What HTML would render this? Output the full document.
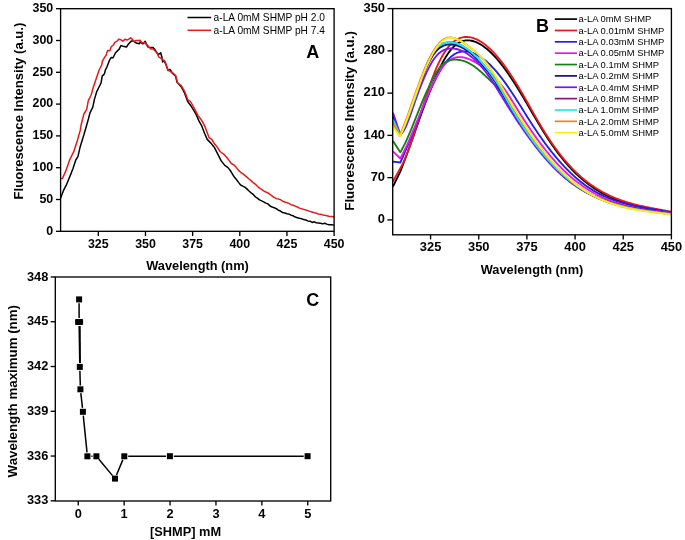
<!DOCTYPE html>
<html><head><meta charset="utf-8"><style>
html,body{margin:0;padding:0;background:#fff;}
svg{display:block;}
text{-webkit-font-smoothing:antialiased;}
.g{opacity:0.999;}
text{font-family:"Liberation Sans", sans-serif;}
</style></head><body>
<svg width="685" height="540" viewBox="0 0 685 540">
<rect x="0" y="0" width="685" height="540" fill="#fff"/>
<g class="g">
<defs><clipPath id="clipA"><rect x="60.6" y="8.7" width="273.5" height="222.6"/></clipPath>
<clipPath id="clipB"><rect x="392.7" y="8.6" width="278.4" height="225.8"/></clipPath></defs>
<g clip-path="url(#clipB)" fill="none" stroke-width="1.85" stroke-linejoin="round" stroke-linecap="butt">
<path d="M393.00,186.50 L400.60,170.81 L401.60,168.25 L402.60,165.65 L403.60,163.02 L404.60,160.37 L405.60,157.68 L406.60,154.98 L407.60,152.25 L408.60,149.50 L409.60,146.74 L410.60,143.96 L411.60,141.17 L412.60,138.37 L413.60,135.57 L414.60,132.76 L415.60,129.95 L416.60,127.14 L417.60,124.33 L418.60,121.53 L419.60,118.74 L420.60,115.96 L421.60,113.19 L422.60,110.44 L423.60,107.70 L424.60,104.99 L425.60,102.30 L426.60,99.64 L427.60,97.01 L428.60,94.41 L429.60,91.84 L430.60,89.30 L431.60,86.81 L432.60,84.36 L433.60,81.95 L434.60,79.58 L435.60,77.27 L436.60,75.01 L437.60,72.80 L438.60,70.64 L439.60,68.55 L440.60,66.51 L441.60,64.54 L442.60,62.64 L443.60,60.81 L444.60,59.04 L445.60,57.35 L446.60,55.74 L447.60,54.20 L448.60,52.75 L449.60,51.38 L450.60,50.10 L451.60,48.90 L452.60,47.79 L453.60,46.77 L454.60,45.83 L455.60,44.97 L456.60,44.19 L457.60,43.48 L458.60,42.86 L459.60,42.30 L460.60,41.82 L461.60,41.41 L462.60,41.07 L463.60,40.79 L464.60,40.58 L465.60,40.43 L466.60,40.34 L467.60,40.31 L468.60,40.34 L469.60,40.42 L470.60,40.56 L471.60,40.74 L472.60,40.98 L473.60,41.26 L474.60,41.59 L475.60,41.96 L476.60,42.38 L477.60,42.84 L478.60,43.34 L479.60,43.87 L480.60,44.45 L481.60,45.07 L482.60,45.72 L483.60,46.42 L484.60,47.15 L485.60,47.92 L486.60,48.72 L487.60,49.56 L488.60,50.43 L489.60,51.34 L490.60,52.28 L491.60,53.26 L492.60,54.27 L493.60,55.30 L494.60,56.37 L495.60,57.47 L496.60,58.60 L497.60,59.76 L498.60,60.95 L499.60,62.16 L500.60,63.40 L501.60,64.67 L502.60,65.97 L503.60,67.29 L504.60,68.63 L505.60,70.00 L506.60,71.39 L507.60,72.81 L508.60,74.25 L509.60,75.70 L510.60,77.18 L511.60,78.69 L512.60,80.20 L513.60,81.74 L514.60,83.30 L515.60,84.88 L516.60,86.47 L517.60,88.08 L518.60,89.70 L519.60,91.34 L520.60,93.00 L521.60,94.66 L522.60,96.34 L523.60,98.03 L524.60,99.73 L525.60,101.43 L526.60,103.14 L527.60,104.85 L528.60,106.57 L529.60,108.29 L530.60,110.02 L531.60,111.74 L532.60,113.46 L533.60,115.17 L534.60,116.89 L535.60,118.59 L536.60,120.29 L537.60,121.99 L538.60,123.67 L539.60,125.34 L540.60,127.00 L541.60,128.65 L542.60,130.28 L543.60,131.89 L544.60,133.49 L545.60,135.07 L546.60,136.64 L547.60,138.19 L548.60,139.71 L549.60,141.23 L550.60,142.72 L551.60,144.19 L552.60,145.64 L553.60,147.07 L554.60,148.49 L555.60,149.88 L556.60,151.25 L557.60,152.60 L558.60,153.93 L559.60,155.23 L560.60,156.52 L561.60,157.78 L562.60,159.02 L563.60,160.24 L564.60,161.44 L565.60,162.61 L566.60,163.77 L567.60,164.90 L568.60,166.02 L569.60,167.11 L570.60,168.19 L571.60,169.25 L572.60,170.28 L573.60,171.30 L574.60,172.30 L575.60,173.28 L576.60,174.24 L577.60,175.18 L578.60,176.10 L579.60,177.01 L580.60,177.90 L581.60,178.77 L582.60,179.62 L583.60,180.46 L584.60,181.28 L585.60,182.08 L586.60,182.87 L587.60,183.64 L588.60,184.40 L589.60,185.14 L590.60,185.86 L591.60,186.57 L592.60,187.26 L593.60,187.94 L594.60,188.61 L595.60,189.26 L596.60,189.89 L597.60,190.51 L598.60,191.12 L599.60,191.72 L600.60,192.30 L601.60,192.87 L602.60,193.42 L603.60,193.97 L604.60,194.50 L605.60,195.02 L606.60,195.52 L607.60,196.02 L608.60,196.50 L609.60,196.97 L610.60,197.43 L611.60,197.88 L612.60,198.32 L613.60,198.75 L614.60,199.17 L615.60,199.58 L616.60,199.98 L617.60,200.37 L618.60,200.75 L619.60,201.12 L620.60,201.48 L621.60,201.83 L622.60,202.18 L623.60,202.52 L624.60,202.85 L625.60,203.17 L626.60,203.48 L627.60,203.78 L628.60,204.08 L629.60,204.38 L630.60,204.66 L631.60,204.94 L632.60,205.21 L633.60,205.48 L634.60,205.74 L635.60,205.99 L636.60,206.24 L637.60,206.49 L638.60,206.72 L639.60,206.96 L640.60,207.19 L641.60,207.41 L642.60,207.63 L643.60,207.85 L644.60,208.07 L645.60,208.28 L646.60,208.48 L647.60,208.69 L648.60,208.89 L649.60,209.09 L650.60,209.28 L651.60,209.48 L652.60,209.67 L653.60,209.86 L654.60,210.05 L655.60,210.23 L656.60,210.42 L657.60,210.61 L658.60,210.79 L659.60,210.97 L660.60,211.16 L661.60,211.34 L662.60,211.53 L663.60,211.71 L664.60,211.90 L665.60,212.08 L666.60,212.27 L667.60,212.46 L668.60,212.65 L669.60,212.84 L670.60,213.04" stroke="#000000"/>
<path d="M393.00,181.50 L400.60,167.80 L401.60,165.93 L402.60,163.92 L403.60,161.80 L404.60,159.56 L405.60,157.22 L406.60,154.77 L407.60,152.23 L408.60,149.60 L409.60,146.89 L410.60,144.11 L411.60,141.26 L412.60,138.34 L413.60,135.38 L414.60,132.36 L415.60,129.31 L416.60,126.22 L417.60,123.11 L418.60,119.97 L419.60,116.82 L420.60,113.66 L421.60,110.50 L422.60,107.35 L423.60,104.21 L424.60,101.09 L425.60,97.99 L426.60,94.93 L427.60,91.91 L428.60,88.93 L429.60,86.01 L430.60,83.14 L431.60,80.35 L432.60,77.62 L433.60,74.98 L434.60,72.42 L435.60,69.95 L436.60,67.58 L437.60,65.32 L438.60,63.15 L439.60,61.08 L440.60,59.10 L441.60,57.22 L442.60,55.44 L443.60,53.75 L444.60,52.15 L445.60,50.64 L446.60,49.23 L447.60,47.90 L448.60,46.66 L449.60,45.51 L450.60,44.43 L451.60,43.44 L452.60,42.53 L453.60,41.69 L454.60,40.93 L455.60,40.25 L456.60,39.63 L457.60,39.08 L458.60,38.61 L459.60,38.19 L460.60,37.84 L461.60,37.55 L462.60,37.33 L463.60,37.16 L464.60,37.04 L465.60,36.98 L466.60,36.97 L467.60,37.01 L468.60,37.10 L469.60,37.24 L470.60,37.42 L471.60,37.64 L472.60,37.91 L473.60,38.22 L474.60,38.57 L475.60,38.96 L476.60,39.40 L477.60,39.87 L478.60,40.38 L479.60,40.93 L480.60,41.52 L481.60,42.15 L482.60,42.82 L483.60,43.52 L484.60,44.26 L485.60,45.03 L486.60,45.84 L487.60,46.69 L488.60,47.57 L489.60,48.48 L490.60,49.43 L491.60,50.40 L492.60,51.42 L493.60,52.46 L494.60,53.53 L495.60,54.64 L496.60,55.77 L497.60,56.94 L498.60,58.13 L499.60,59.35 L500.60,60.60 L501.60,61.88 L502.60,63.18 L503.60,64.51 L504.60,65.87 L505.60,67.25 L506.60,68.65 L507.60,70.08 L508.60,71.54 L509.60,73.01 L510.60,74.51 L511.60,76.03 L512.60,77.58 L513.60,79.14 L514.60,80.72 L515.60,82.33 L516.60,83.95 L517.60,85.60 L518.60,87.26 L519.60,88.93 L520.60,90.63 L521.60,92.34 L522.60,94.06 L523.60,95.79 L524.60,97.53 L525.60,99.28 L526.60,101.04 L527.60,102.80 L528.60,104.57 L529.60,106.33 L530.60,108.10 L531.60,109.87 L532.60,111.63 L533.60,113.40 L534.60,115.15 L535.60,116.90 L536.60,118.64 L537.60,120.37 L538.60,122.09 L539.60,123.79 L540.60,125.48 L541.60,127.16 L542.60,128.81 L543.60,130.45 L544.60,132.07 L545.60,133.66 L546.60,135.24 L547.60,136.79 L548.60,138.32 L549.60,139.83 L550.60,141.32 L551.60,142.79 L552.60,144.23 L553.60,145.66 L554.60,147.07 L555.60,148.45 L556.60,149.81 L557.60,151.15 L558.60,152.48 L559.60,153.78 L560.60,155.06 L561.60,156.32 L562.60,157.56 L563.60,158.78 L564.60,159.98 L565.60,161.15 L566.60,162.31 L567.60,163.45 L568.60,164.57 L569.60,165.67 L570.60,166.74 L571.60,167.80 L572.60,168.84 L573.60,169.86 L574.60,170.86 L575.60,171.84 L576.60,172.81 L577.60,173.75 L578.60,174.68 L579.60,175.59 L580.60,176.48 L581.60,177.35 L582.60,178.21 L583.60,179.05 L584.60,179.87 L585.60,180.67 L586.60,181.46 L587.60,182.23 L588.60,182.99 L589.60,183.73 L590.60,184.46 L591.60,185.17 L592.60,185.86 L593.60,186.54 L594.60,187.21 L595.60,187.86 L596.60,188.50 L597.60,189.12 L598.60,189.73 L599.60,190.32 L600.60,190.91 L601.60,191.48 L602.60,192.03 L603.60,192.58 L604.60,193.11 L605.60,193.63 L606.60,194.13 L607.60,194.63 L608.60,195.11 L609.60,195.58 L610.60,196.04 L611.60,196.49 L612.60,196.93 L613.60,197.36 L614.60,197.78 L615.60,198.19 L616.60,198.59 L617.60,198.98 L618.60,199.36 L619.60,199.73 L620.60,200.09 L621.60,200.44 L622.60,200.79 L623.60,201.12 L624.60,201.45 L625.60,201.77 L626.60,202.08 L627.60,202.39 L628.60,202.69 L629.60,202.98 L630.60,203.26 L631.60,203.54 L632.60,203.81 L633.60,204.08 L634.60,204.34 L635.60,204.59 L636.60,204.84 L637.60,205.08 L638.60,205.32 L639.60,205.56 L640.60,205.79 L641.60,206.01 L642.60,206.23 L643.60,206.45 L644.60,206.66 L645.60,206.87 L646.60,207.08 L647.60,207.28 L648.60,207.48 L649.60,207.68 L650.60,207.88 L651.60,208.07 L652.60,208.26 L653.60,208.45 L654.60,208.64 L655.60,208.83 L656.60,209.02 L657.60,209.20 L658.60,209.39 L659.60,209.57 L660.60,209.76 L661.60,209.94 L662.60,210.12 L663.60,210.31 L664.60,210.50 L665.60,210.68 L666.60,210.87 L667.60,211.06 L668.60,211.25 L669.60,211.45 L670.60,211.64" stroke="#e8191a"/>
<path d="M393.00,161.70 L400.30,162.50 L401.30,160.32 L402.30,158.10 L403.30,155.84 L404.30,153.54 L405.30,151.21 L406.30,148.85 L407.30,146.46 L408.30,144.05 L409.30,141.62 L410.30,139.16 L411.30,136.69 L412.30,134.21 L413.30,131.72 L414.30,129.22 L415.30,126.71 L416.30,124.20 L417.30,121.69 L418.30,119.19 L419.30,116.69 L420.30,114.20 L421.30,111.72 L422.30,109.26 L423.30,106.81 L424.30,104.38 L425.30,101.98 L426.30,99.60 L427.30,97.25 L428.30,94.93 L429.30,92.65 L430.30,90.40 L431.30,88.19 L432.30,86.02 L433.30,83.90 L434.30,81.82 L435.30,79.80 L436.30,77.83 L437.30,75.91 L438.30,74.06 L439.30,72.27 L440.30,70.54 L441.30,68.87 L442.30,67.28 L443.30,65.76 L444.30,64.32 L445.30,62.95 L446.30,61.67 L447.30,60.47 L448.30,59.35 L449.30,58.31 L450.30,57.36 L451.30,56.48 L452.30,55.68 L453.30,54.96 L454.30,54.30 L455.30,53.72 L456.30,53.21 L457.30,52.76 L458.30,52.38 L459.30,52.06 L460.30,51.80 L461.30,51.60 L462.30,51.46 L463.30,51.37 L464.30,51.34 L465.30,51.35 L466.30,51.42 L467.30,51.54 L468.30,51.70 L469.30,51.91 L470.30,52.15 L471.30,52.44 L472.30,52.77 L473.30,53.14 L474.30,53.55 L475.30,54.00 L476.30,54.48 L477.30,55.00 L478.30,55.56 L479.30,56.16 L480.30,56.79 L481.30,57.46 L482.30,58.16 L483.30,58.90 L484.30,59.68 L485.30,60.48 L486.30,61.32 L487.30,62.19 L488.30,63.10 L489.30,64.04 L490.30,65.01 L491.30,66.00 L492.30,67.03 L493.30,68.09 L494.30,69.18 L495.30,70.30 L496.30,71.45 L497.30,72.62 L498.30,73.82 L499.30,75.05 L500.30,76.31 L501.30,77.59 L502.30,78.90 L503.30,80.23 L504.30,81.59 L505.30,82.97 L506.30,84.37 L507.30,85.79 L508.30,87.24 L509.30,88.71 L510.30,90.19 L511.30,91.69 L512.30,93.21 L513.30,94.73 L514.30,96.28 L515.30,97.83 L516.30,99.39 L517.30,100.97 L518.30,102.55 L519.30,104.13 L520.30,105.73 L521.30,107.32 L522.30,108.92 L523.30,110.52 L524.30,112.12 L525.30,113.71 L526.30,115.31 L527.30,116.90 L528.30,118.48 L529.30,120.06 L530.30,121.63 L531.30,123.19 L532.30,124.74 L533.30,126.28 L534.30,127.81 L535.30,129.32 L536.30,130.81 L537.30,132.29 L538.30,133.76 L539.30,135.21 L540.30,136.65 L541.30,138.07 L542.30,139.48 L543.30,140.87 L544.30,142.24 L545.30,143.60 L546.30,144.95 L547.30,146.28 L548.30,147.60 L549.30,148.90 L550.30,150.18 L551.30,151.45 L552.30,152.71 L553.30,153.95 L554.30,155.17 L555.30,156.38 L556.30,157.57 L557.30,158.75 L558.30,159.91 L559.30,161.05 L560.30,162.18 L561.30,163.30 L562.30,164.40 L563.30,165.48 L564.30,166.55 L565.30,167.60 L566.30,168.63 L567.30,169.65 L568.30,170.65 L569.30,171.64 L570.30,172.61 L571.30,173.57 L572.30,174.51 L573.30,175.43 L574.30,176.34 L575.30,177.23 L576.30,178.10 L577.30,178.96 L578.30,179.80 L579.30,180.63 L580.30,181.43 L581.30,182.23 L582.30,183.00 L583.30,183.76 L584.30,184.50 L585.30,185.23 L586.30,185.94 L587.30,186.64 L588.30,187.32 L589.30,187.98 L590.30,188.63 L591.30,189.27 L592.30,189.89 L593.30,190.49 L594.30,191.09 L595.30,191.67 L596.30,192.23 L597.30,192.78 L598.30,193.32 L599.30,193.85 L600.30,194.36 L601.30,194.86 L602.30,195.35 L603.30,195.83 L604.30,196.29 L605.30,196.74 L606.30,197.18 L607.30,197.61 L608.30,198.03 L609.30,198.44 L610.30,198.84 L611.30,199.23 L612.30,199.61 L613.30,199.98 L614.30,200.33 L615.30,200.68 L616.30,201.02 L617.30,201.36 L618.30,201.68 L619.30,201.99 L620.30,202.30 L621.30,202.60 L622.30,202.89 L623.30,203.17 L624.30,203.45 L625.30,203.72 L626.30,203.98 L627.30,204.23 L628.30,204.48 L629.30,204.72 L630.30,204.96 L631.30,205.19 L632.30,205.42 L633.30,205.64 L634.30,205.85 L635.30,206.06 L636.30,206.27 L637.30,206.47 L638.30,206.67 L639.30,206.86 L640.30,207.05 L641.30,207.23 L642.30,207.42 L643.30,207.60 L644.30,207.77 L645.30,207.95 L646.30,208.12 L647.30,208.29 L648.30,208.46 L649.30,208.62 L650.30,208.79 L651.30,208.95 L652.30,209.11 L653.30,209.27 L654.30,209.43 L655.30,209.59 L656.30,209.75 L657.30,209.92 L658.30,210.08 L659.30,210.24 L660.30,210.40 L661.30,210.56 L662.30,210.73 L663.30,210.89 L664.30,211.06 L665.30,211.23 L666.30,211.40 L667.30,211.58 L668.30,211.75 L669.30,211.93 L670.30,212.11 L671.30,212.30" stroke="#1f1fe6"/>
<path d="M393.00,151.40 L400.30,158.50 L401.30,156.66 L402.30,154.76 L403.30,152.79 L404.30,150.77 L405.30,148.68 L406.30,146.55 L407.30,144.37 L408.30,142.14 L409.30,139.88 L410.30,137.57 L411.30,135.23 L412.30,132.87 L413.30,130.47 L414.30,128.06 L415.30,125.63 L416.30,123.18 L417.30,120.72 L418.30,118.26 L419.30,115.79 L420.30,113.32 L421.30,110.85 L422.30,108.40 L423.30,105.95 L424.30,103.52 L425.30,101.11 L426.30,98.72 L427.30,96.36 L428.30,94.03 L429.30,91.73 L430.30,89.47 L431.30,87.25 L432.30,85.08 L433.30,82.96 L434.30,80.89 L435.30,78.89 L436.30,76.97 L437.30,75.12 L438.30,73.36 L439.30,71.70 L440.30,70.15 L441.30,68.69 L442.30,67.34 L443.30,66.09 L444.30,64.93 L445.30,63.86 L446.30,62.88 L447.30,61.99 L448.30,61.19 L449.30,60.46 L450.30,59.82 L451.30,59.25 L452.30,58.75 L453.30,58.32 L454.30,57.96 L455.30,57.67 L456.30,57.44 L457.30,57.27 L458.30,57.17 L459.30,57.11 L460.30,57.12 L461.30,57.18 L462.30,57.28 L463.30,57.44 L464.30,57.64 L465.30,57.88 L466.30,58.17 L467.30,58.50 L468.30,58.86 L469.30,59.25 L470.30,59.68 L471.30,60.14 L472.30,60.63 L473.30,61.14 L474.30,61.68 L475.30,62.24 L476.30,62.81 L477.30,63.41 L478.30,64.02 L479.30,64.66 L480.30,65.31 L481.30,65.99 L482.30,66.69 L483.30,67.41 L484.30,68.15 L485.30,68.92 L486.30,69.71 L487.30,70.53 L488.30,71.37 L489.30,72.24 L490.30,73.14 L491.30,74.07 L492.30,75.02 L493.30,76.00 L494.30,77.01 L495.30,78.06 L496.30,79.13 L497.30,80.24 L498.30,81.38 L499.30,82.55 L500.30,83.75 L501.30,84.99 L502.30,86.27 L503.30,87.58 L504.30,88.93 L505.30,90.31 L506.30,91.73 L507.30,93.19 L508.30,94.69 L509.30,96.23 L510.30,97.80 L511.30,99.39 L512.30,101.00 L513.30,102.63 L514.30,104.26 L515.30,105.90 L516.30,107.53 L517.30,109.15 L518.30,110.77 L519.30,112.37 L520.30,113.96 L521.30,115.55 L522.30,117.11 L523.30,118.67 L524.30,120.22 L525.30,121.75 L526.30,123.27 L527.30,124.78 L528.30,126.28 L529.30,127.77 L530.30,129.24 L531.30,130.70 L532.30,132.15 L533.30,133.58 L534.30,135.00 L535.30,136.41 L536.30,137.80 L537.30,139.18 L538.30,140.55 L539.30,141.90 L540.30,143.24 L541.30,144.57 L542.30,145.88 L543.30,147.18 L544.30,148.46 L545.30,149.73 L546.30,150.99 L547.30,152.22 L548.30,153.45 L549.30,154.66 L550.30,155.85 L551.30,157.03 L552.30,158.19 L553.30,159.34 L554.30,160.47 L555.30,161.59 L556.30,162.69 L557.30,163.77 L558.30,164.84 L559.30,165.89 L560.30,166.93 L561.30,167.94 L562.30,168.95 L563.30,169.93 L564.30,170.90 L565.30,171.85 L566.30,172.79 L567.30,173.71 L568.30,174.62 L569.30,175.51 L570.30,176.39 L571.30,177.25 L572.30,178.09 L573.30,178.93 L574.30,179.74 L575.30,180.54 L576.30,181.33 L577.30,182.11 L578.30,182.86 L579.30,183.61 L580.30,184.34 L581.30,185.06 L582.30,185.77 L583.30,186.46 L584.30,187.14 L585.30,187.80 L586.30,188.45 L587.30,189.09 L588.30,189.72 L589.30,190.34 L590.30,190.94 L591.30,191.53 L592.30,192.11 L593.30,192.68 L594.30,193.23 L595.30,193.78 L596.30,194.31 L597.30,194.83 L598.30,195.34 L599.30,195.84 L600.30,196.33 L601.30,196.81 L602.30,197.28 L603.30,197.74 L604.30,198.18 L605.30,198.62 L606.30,199.05 L607.30,199.47 L608.30,199.88 L609.30,200.28 L610.30,200.67 L611.30,201.05 L612.30,201.42 L613.30,201.78 L614.30,202.14 L615.30,202.48 L616.30,202.82 L617.30,203.15 L618.30,203.47 L619.30,203.79 L620.30,204.09 L621.30,204.39 L622.30,204.68 L623.30,204.97 L624.30,205.24 L625.30,205.51 L626.30,205.78 L627.30,206.03 L628.30,206.28 L629.30,206.53 L630.30,206.76 L631.30,206.99 L632.30,207.22 L633.30,207.44 L634.30,207.65 L635.30,207.86 L636.30,208.06 L637.30,208.26 L638.30,208.45 L639.30,208.64 L640.30,208.83 L641.30,209.00 L642.30,209.18 L643.30,209.35 L644.30,209.51 L645.30,209.68 L646.30,209.83 L647.30,209.99 L648.30,210.14 L649.30,210.29 L650.30,210.43 L651.30,210.57 L652.30,210.71 L653.30,210.84 L654.30,210.98 L655.30,211.11 L656.30,211.23 L657.30,211.36 L658.30,211.48 L659.30,211.61 L660.30,211.73 L661.30,211.84 L662.30,211.96 L663.30,212.08 L664.30,212.19 L665.30,212.30 L666.30,212.42 L667.30,212.53 L668.30,212.64 L669.30,212.75 L670.30,212.86 L671.30,212.97" stroke="#f010f0"/>
<path d="M393.00,141.10 L400.30,152.30 L401.30,150.61 L402.30,148.81 L403.30,146.92 L404.30,144.94 L405.30,142.87 L406.30,140.72 L407.30,138.51 L408.30,136.23 L409.30,133.90 L410.30,131.52 L411.30,129.09 L412.30,126.63 L413.30,124.15 L414.30,121.64 L415.30,119.12 L416.30,116.59 L417.30,114.06 L418.30,111.54 L419.30,109.03 L420.30,106.54 L421.30,104.09 L422.30,101.66 L423.30,99.28 L424.30,96.95 L425.30,94.65 L426.30,92.41 L427.30,90.21 L428.30,88.05 L429.30,85.94 L430.30,83.87 L431.30,81.84 L432.30,79.86 L433.30,77.92 L434.30,76.05 L435.30,74.25 L436.30,72.54 L437.30,70.94 L438.30,69.45 L439.30,68.08 L440.30,66.85 L441.30,65.73 L442.30,64.72 L443.30,63.83 L444.30,63.03 L445.30,62.34 L446.30,61.73 L447.30,61.22 L448.30,60.78 L449.30,60.43 L450.30,60.14 L451.30,59.93 L452.30,59.77 L453.30,59.67 L454.30,59.62 L455.30,59.61 L456.30,59.65 L457.30,59.72 L458.30,59.83 L459.30,59.97 L460.30,60.14 L461.30,60.35 L462.30,60.60 L463.30,60.88 L464.30,61.21 L465.30,61.56 L466.30,61.96 L467.30,62.40 L468.30,62.87 L469.30,63.38 L470.30,63.94 L471.30,64.53 L472.30,65.16 L473.30,65.82 L474.30,66.52 L475.30,67.25 L476.30,68.01 L477.30,68.79 L478.30,69.61 L479.30,70.44 L480.30,71.29 L481.30,72.17 L482.30,73.06 L483.30,73.97 L484.30,74.89 L485.30,75.81 L486.30,76.75 L487.30,77.70 L488.30,78.65 L489.30,79.60 L490.30,80.55 L491.30,81.51 L492.30,82.47 L493.30,83.44 L494.30,84.42 L495.30,85.41 L496.30,86.42 L497.30,87.45 L498.30,88.49 L499.30,89.56 L500.30,90.65 L501.30,91.78 L502.30,92.93 L503.30,94.12 L504.30,95.34 L505.30,96.60 L506.30,97.90 L507.30,99.24 L508.30,100.63 L509.30,102.07 L510.30,103.56 L511.30,105.10 L512.30,106.70 L513.30,108.34 L514.30,110.04 L515.30,111.77 L516.30,113.53 L517.30,115.31 L518.30,117.11 L519.30,118.92 L520.30,120.73 L521.30,122.54 L522.30,124.33 L523.30,126.11 L524.30,127.86 L525.30,129.59 L526.30,131.27 L527.30,132.92 L528.30,134.54 L529.30,136.12 L530.30,137.68 L531.30,139.20 L532.30,140.69 L533.30,142.15 L534.30,143.58 L535.30,144.99 L536.30,146.37 L537.30,147.73 L538.30,149.06 L539.30,150.37 L540.30,151.66 L541.30,152.93 L542.30,154.17 L543.30,155.40 L544.30,156.61 L545.30,157.80 L546.30,158.96 L547.30,160.11 L548.30,161.24 L549.30,162.35 L550.30,163.44 L551.30,164.51 L552.30,165.57 L553.30,166.60 L554.30,167.62 L555.30,168.62 L556.30,169.60 L557.30,170.57 L558.30,171.52 L559.30,172.45 L560.30,173.36 L561.30,174.26 L562.30,175.14 L563.30,176.01 L564.30,176.86 L565.30,177.69 L566.30,178.51 L567.30,179.31 L568.30,180.10 L569.30,180.87 L570.30,181.63 L571.30,182.38 L572.30,183.11 L573.30,183.83 L574.30,184.53 L575.30,185.22 L576.30,185.89 L577.30,186.56 L578.30,187.21 L579.30,187.85 L580.30,188.47 L581.30,189.08 L582.30,189.69 L583.30,190.28 L584.30,190.85 L585.30,191.42 L586.30,191.97 L587.30,192.52 L588.30,193.05 L589.30,193.57 L590.30,194.08 L591.30,194.58 L592.30,195.07 L593.30,195.55 L594.30,196.02 L595.30,196.48 L596.30,196.93 L597.30,197.37 L598.30,197.81 L599.30,198.23 L600.30,198.64 L601.30,199.04 L602.30,199.44 L603.30,199.82 L604.30,200.20 L605.30,200.57 L606.30,200.93 L607.30,201.28 L608.30,201.63 L609.30,201.96 L610.30,202.29 L611.30,202.61 L612.30,202.93 L613.30,203.23 L614.30,203.53 L615.30,203.83 L616.30,204.11 L617.30,204.39 L618.30,204.67 L619.30,204.93 L620.30,205.19 L621.30,205.45 L622.30,205.70 L623.30,205.94 L624.30,206.18 L625.30,206.41 L626.30,206.64 L627.30,206.86 L628.30,207.08 L629.30,207.29 L630.30,207.50 L631.30,207.71 L632.30,207.90 L633.30,208.10 L634.30,208.29 L635.30,208.48 L636.30,208.66 L637.30,208.84 L638.30,209.02 L639.30,209.19 L640.30,209.37 L641.30,209.53 L642.30,209.70 L643.30,209.86 L644.30,210.02 L645.30,210.18 L646.30,210.33 L647.30,210.49 L648.30,210.64 L649.30,210.79 L650.30,210.94 L651.30,211.09 L652.30,211.23 L653.30,211.38 L654.30,211.52 L655.30,211.67 L656.30,211.81 L657.30,211.95 L658.30,212.09 L659.30,212.24 L660.30,212.38 L661.30,212.52 L662.30,212.66 L663.30,212.81 L664.30,212.95 L665.30,213.09 L666.30,213.24 L667.30,213.39 L668.30,213.53 L669.30,213.68 L670.30,213.83 L671.30,213.99" stroke="#168016"/>
<path d="M393.00,116.50 L400.20,135.05 L401.20,133.62 L402.20,131.90 L403.20,130.00 L404.20,127.95 L405.20,125.75 L406.20,123.42 L407.20,120.97 L408.20,118.42 L409.20,115.77 L410.20,113.04 L411.20,110.25 L412.20,107.40 L413.20,104.52 L414.20,101.60 L415.20,98.68 L416.20,95.74 L417.20,92.81 L418.20,89.89 L419.20,86.99 L420.20,84.13 L421.20,81.31 L422.20,78.55 L423.20,75.86 L424.20,73.26 L425.20,70.75 L426.20,68.35 L427.20,66.08 L428.20,63.92 L429.20,61.89 L430.20,59.99 L431.20,58.21 L432.20,56.56 L433.20,55.03 L434.20,53.62 L435.20,52.34 L436.20,51.17 L437.20,50.11 L438.20,49.16 L439.20,48.32 L440.20,47.57 L441.20,46.91 L442.20,46.35 L443.20,45.87 L444.20,45.47 L445.20,45.14 L446.20,44.89 L447.20,44.70 L448.20,44.57 L449.20,44.50 L450.20,44.49 L451.20,44.52 L452.20,44.59 L453.20,44.71 L454.20,44.88 L455.20,45.08 L456.20,45.33 L457.20,45.62 L458.20,45.95 L459.20,46.32 L460.20,46.74 L461.20,47.19 L462.20,47.67 L463.20,48.20 L464.20,48.77 L465.20,49.37 L466.20,50.00 L467.20,50.68 L468.20,51.38 L469.20,52.13 L470.20,52.90 L471.20,53.71 L472.20,54.56 L473.20,55.43 L474.20,56.34 L475.20,57.27 L476.20,58.24 L477.20,59.24 L478.20,60.26 L479.20,61.32 L480.20,62.40 L481.20,63.51 L482.20,64.65 L483.20,65.81 L484.20,67.01 L485.20,68.23 L486.20,69.48 L487.20,70.75 L488.20,72.06 L489.20,73.40 L490.20,74.77 L491.20,76.16 L492.20,77.59 L493.20,79.05 L494.20,80.54 L495.20,82.06 L496.20,83.60 L497.20,85.18 L498.20,86.78 L499.20,88.40 L500.20,90.06 L501.20,91.74 L502.20,93.45 L503.20,95.17 L504.20,96.92 L505.20,98.67 L506.20,100.41 L507.20,102.15 L508.20,103.87 L509.20,105.58 L510.20,107.27 L511.20,108.94 L512.20,110.60 L513.20,112.24 L514.20,113.87 L515.20,115.49 L516.20,117.08 L517.20,118.67 L518.20,120.23 L519.20,121.79 L520.20,123.32 L521.20,124.85 L522.20,126.35 L523.20,127.85 L524.20,129.33 L525.20,130.79 L526.20,132.24 L527.20,133.67 L528.20,135.10 L529.20,136.50 L530.20,137.89 L531.20,139.27 L532.20,140.63 L533.20,141.98 L534.20,143.31 L535.20,144.63 L536.20,145.93 L537.20,147.22 L538.20,148.49 L539.20,149.75 L540.20,150.99 L541.20,152.22 L542.20,153.43 L543.20,154.63 L544.20,155.82 L545.20,156.99 L546.20,158.14 L547.20,159.28 L548.20,160.40 L549.20,161.51 L550.20,162.61 L551.20,163.68 L552.20,164.75 L553.20,165.80 L554.20,166.83 L555.20,167.85 L556.20,168.85 L557.20,169.84 L558.20,170.81 L559.20,171.77 L560.20,172.71 L561.20,173.63 L562.20,174.54 L563.20,175.44 L564.20,176.32 L565.20,177.19 L566.20,178.04 L567.20,178.87 L568.20,179.69 L569.20,180.50 L570.20,181.29 L571.20,182.07 L572.20,182.84 L573.20,183.59 L574.20,184.32 L575.20,185.04 L576.20,185.75 L577.20,186.45 L578.20,187.13 L579.20,187.80 L580.20,188.45 L581.20,189.09 L582.20,189.72 L583.20,190.33 L584.20,190.93 L585.20,191.52 L586.20,192.10 L587.20,192.66 L588.20,193.21 L589.20,193.75 L590.20,194.28 L591.20,194.79 L592.20,195.30 L593.20,195.79 L594.20,196.27 L595.20,196.74 L596.20,197.20 L597.20,197.65 L598.20,198.09 L599.20,198.52 L600.20,198.93 L601.20,199.34 L602.20,199.74 L603.20,200.13 L604.20,200.51 L605.20,200.88 L606.20,201.24 L607.20,201.60 L608.20,201.94 L609.20,202.28 L610.20,202.60 L611.20,202.92 L612.20,203.23 L613.20,203.54 L614.20,203.83 L615.20,204.12 L616.20,204.40 L617.20,204.68 L618.20,204.95 L619.20,205.21 L620.20,205.46 L621.20,205.71 L622.20,205.95 L623.20,206.19 L624.20,206.42 L625.20,206.65 L626.20,206.87 L627.20,207.08 L628.20,207.29 L629.20,207.49 L630.20,207.69 L631.20,207.89 L632.20,208.08 L633.20,208.27 L634.20,208.45 L635.20,208.63 L636.20,208.81 L637.20,208.98 L638.20,209.15 L639.20,209.31 L640.20,209.48 L641.20,209.64 L642.20,209.80 L643.20,209.95 L644.20,210.11 L645.20,210.26 L646.20,210.41 L647.20,210.56 L648.20,210.70 L649.20,210.85 L650.20,210.99 L651.20,211.14 L652.20,211.28 L653.20,211.42 L654.20,211.56 L655.20,211.71 L656.20,211.85 L657.20,211.99 L658.20,212.13 L659.20,212.28 L660.20,212.42 L661.20,212.56 L662.20,212.71 L663.20,212.86 L664.20,213.01 L665.20,213.16 L666.20,213.31 L667.20,213.46 L668.20,213.62 L669.20,213.78 L670.20,213.94 L671.20,214.10" stroke="#10107e"/>
<path d="M393.00,112.80 L400.30,134.50 L401.30,133.78 L402.30,132.72 L403.30,131.34 L404.30,129.67 L405.30,127.75 L406.30,125.60 L407.30,123.25 L408.30,120.73 L409.30,118.07 L410.30,115.29 L411.30,112.44 L412.30,109.53 L413.30,106.60 L414.30,103.67 L415.30,100.78 L416.30,97.94 L417.30,95.16 L418.30,92.44 L419.30,89.77 L420.30,87.17 L421.30,84.64 L422.30,82.17 L423.30,79.77 L424.30,77.43 L425.30,75.17 L426.30,72.98 L427.30,70.87 L428.30,68.84 L429.30,66.88 L430.30,65.01 L431.30,63.24 L432.30,61.57 L433.30,60.01 L434.30,58.57 L435.30,57.25 L436.30,56.04 L437.30,54.93 L438.30,53.93 L439.30,53.03 L440.30,52.23 L441.30,51.52 L442.30,50.89 L443.30,50.35 L444.30,49.88 L445.30,49.50 L446.30,49.18 L447.30,48.92 L448.30,48.73 L449.30,48.60 L450.30,48.52 L451.30,48.49 L452.30,48.51 L453.30,48.57 L454.30,48.67 L455.30,48.81 L456.30,49.00 L457.30,49.23 L458.30,49.50 L459.30,49.82 L460.30,50.17 L461.30,50.57 L462.30,51.00 L463.30,51.48 L464.30,52.00 L465.30,52.55 L466.30,53.15 L467.30,53.78 L468.30,54.46 L469.30,55.17 L470.30,55.92 L471.30,56.70 L472.30,57.53 L473.30,58.39 L474.30,59.29 L475.30,60.22 L476.30,61.19 L477.30,62.20 L478.30,63.24 L479.30,64.32 L480.30,65.43 L481.30,66.57 L482.30,67.75 L483.30,68.97 L484.30,70.22 L485.30,71.50 L486.30,72.81 L487.30,74.16 L488.30,75.53 L489.30,76.94 L490.30,78.39 L491.30,79.86 L492.30,81.36 L493.30,82.89 L494.30,84.44 L495.30,86.01 L496.30,87.60 L497.30,89.21 L498.30,90.82 L499.30,92.45 L500.30,94.08 L501.30,95.71 L502.30,97.34 L503.30,98.97 L504.30,100.59 L505.30,102.21 L506.30,103.81 L507.30,105.41 L508.30,107.00 L509.30,108.58 L510.30,110.15 L511.30,111.72 L512.30,113.27 L513.30,114.81 L514.30,116.35 L515.30,117.87 L516.30,119.39 L517.30,120.89 L518.30,122.39 L519.30,123.87 L520.30,125.34 L521.30,126.81 L522.30,128.26 L523.30,129.70 L524.30,131.13 L525.30,132.55 L526.30,133.96 L527.30,135.35 L528.30,136.74 L529.30,138.11 L530.30,139.47 L531.30,140.82 L532.30,142.15 L533.30,143.48 L534.30,144.79 L535.30,146.08 L536.30,147.37 L537.30,148.64 L538.30,149.90 L539.30,151.14 L540.30,152.37 L541.30,153.59 L542.30,154.79 L543.30,155.98 L544.30,157.15 L545.30,158.31 L546.30,159.46 L547.30,160.59 L548.30,161.70 L549.30,162.80 L550.30,163.89 L551.30,164.95 L552.30,166.01 L553.30,167.05 L554.30,168.07 L555.30,169.07 L556.30,170.06 L557.30,171.03 L558.30,171.99 L559.30,172.93 L560.30,173.85 L561.30,174.76 L562.30,175.65 L563.30,176.52 L564.30,177.38 L565.30,178.22 L566.30,179.04 L567.30,179.85 L568.30,180.64 L569.30,181.42 L570.30,182.18 L571.30,182.93 L572.30,183.66 L573.30,184.37 L574.30,185.08 L575.30,185.77 L576.30,186.44 L577.30,187.10 L578.30,187.75 L579.30,188.38 L580.30,189.00 L581.30,189.61 L582.30,190.20 L583.30,190.78 L584.30,191.35 L585.30,191.90 L586.30,192.45 L587.30,192.98 L588.30,193.50 L589.30,194.00 L590.30,194.50 L591.30,194.99 L592.30,195.46 L593.30,195.92 L594.30,196.37 L595.30,196.82 L596.30,197.25 L597.30,197.67 L598.30,198.08 L599.30,198.48 L600.30,198.87 L601.30,199.25 L602.30,199.63 L603.30,199.99 L604.30,200.35 L605.30,200.69 L606.30,201.03 L607.30,201.36 L608.30,201.68 L609.30,202.00 L610.30,202.30 L611.30,202.60 L612.30,202.89 L613.30,203.18 L614.30,203.46 L615.30,203.73 L616.30,203.99 L617.30,204.25 L618.30,204.50 L619.30,204.75 L620.30,204.98 L621.30,205.22 L622.30,205.45 L623.30,205.67 L624.30,205.89 L625.30,206.10 L626.30,206.31 L627.30,206.52 L628.30,206.72 L629.30,206.91 L630.30,207.10 L631.30,207.29 L632.30,207.48 L633.30,207.66 L634.30,207.83 L635.30,208.01 L636.30,208.18 L637.30,208.35 L638.30,208.52 L639.30,208.68 L640.30,208.85 L641.30,209.01 L642.30,209.17 L643.30,209.32 L644.30,209.48 L645.30,209.64 L646.30,209.79 L647.30,209.95 L648.30,210.10 L649.30,210.25 L650.30,210.40 L651.30,210.56 L652.30,210.71 L653.30,210.86 L654.30,211.02 L655.30,211.17 L656.30,211.33 L657.30,211.49 L658.30,211.64 L659.30,211.80 L660.30,211.97 L661.30,212.13 L662.30,212.30 L663.30,212.46 L664.30,212.63 L665.30,212.81 L666.30,212.98 L667.30,213.16 L668.30,213.35 L669.30,213.53 L670.30,213.72 L671.30,213.91" stroke="#8010f8"/>
<path d="M393.00,119.60 L400.20,135.50 L401.20,133.50 L402.20,131.40 L403.20,129.21 L404.20,126.93 L405.20,124.57 L406.20,122.13 L407.20,119.62 L408.20,117.04 L409.20,114.39 L410.20,111.68 L411.20,108.92 L412.20,106.10 L413.20,103.24 L414.20,100.33 L415.20,97.39 L416.20,94.41 L417.20,91.40 L418.20,88.37 L419.20,85.35 L420.20,82.35 L421.20,79.38 L422.20,76.47 L423.20,73.63 L424.20,70.89 L425.20,68.25 L426.20,65.74 L427.20,63.38 L428.20,61.17 L429.20,59.11 L430.20,57.19 L431.20,55.41 L432.20,53.77 L433.20,52.26 L434.20,50.88 L435.20,49.62 L436.20,48.48 L437.20,47.46 L438.20,46.54 L439.20,45.73 L440.20,45.02 L441.20,44.40 L442.20,43.87 L443.20,43.43 L444.20,43.06 L445.20,42.78 L446.20,42.56 L447.20,42.41 L448.20,42.32 L449.20,42.29 L450.20,42.31 L451.20,42.38 L452.20,42.49 L453.20,42.64 L454.20,42.84 L455.20,43.08 L456.20,43.37 L457.20,43.69 L458.20,44.06 L459.20,44.46 L460.20,44.90 L461.20,45.39 L462.20,45.91 L463.20,46.46 L464.20,47.05 L465.20,47.68 L466.20,48.34 L467.20,49.04 L468.20,49.77 L469.20,50.53 L470.20,51.32 L471.20,52.14 L472.20,53.00 L473.20,53.88 L474.20,54.79 L475.20,55.73 L476.20,56.70 L477.20,57.70 L478.20,58.72 L479.20,59.76 L480.20,60.83 L481.20,61.92 L482.20,63.04 L483.20,64.18 L484.20,65.34 L485.20,66.53 L486.20,67.75 L487.20,68.99 L488.20,70.26 L489.20,71.56 L490.20,72.89 L491.20,74.25 L492.20,75.64 L493.20,77.07 L494.20,78.52 L495.20,80.01 L496.20,81.53 L497.20,83.09 L498.20,84.69 L499.20,86.32 L500.20,87.98 L501.20,89.69 L502.20,91.44 L503.20,93.22 L504.20,95.02 L505.20,96.85 L506.20,98.67 L507.20,100.48 L508.20,102.27 L509.20,104.04 L510.20,105.80 L511.20,107.53 L512.20,109.25 L513.20,110.94 L514.20,112.62 L515.20,114.28 L516.20,115.92 L517.20,117.55 L518.20,119.16 L519.20,120.74 L520.20,122.32 L521.20,123.87 L522.20,125.41 L523.20,126.93 L524.20,128.43 L525.20,129.92 L526.20,131.39 L527.20,132.85 L528.20,134.28 L529.20,135.71 L530.20,137.11 L531.20,138.51 L532.20,139.88 L533.20,141.24 L534.20,142.58 L535.20,143.91 L536.20,145.22 L537.20,146.52 L538.20,147.80 L539.20,149.07 L540.20,150.32 L541.20,151.55 L542.20,152.77 L543.20,153.97 L544.20,155.16 L545.20,156.34 L546.20,157.49 L547.20,158.64 L548.20,159.76 L549.20,160.88 L550.20,161.97 L551.20,163.06 L552.20,164.13 L553.20,165.18 L554.20,166.22 L555.20,167.24 L556.20,168.25 L557.20,169.24 L558.20,170.22 L559.20,171.19 L560.20,172.14 L561.20,173.07 L562.20,174.00 L563.20,174.90 L564.20,175.80 L565.20,176.68 L566.20,177.54 L567.20,178.39 L568.20,179.23 L569.20,180.05 L570.20,180.86 L571.20,181.65 L572.20,182.43 L573.20,183.20 L574.20,183.95 L575.20,184.69 L576.20,185.42 L577.20,186.13 L578.20,186.83 L579.20,187.51 L580.20,188.19 L581.20,188.84 L582.20,189.49 L583.20,190.12 L584.20,190.74 L585.20,191.34 L586.20,191.94 L587.20,192.52 L588.20,193.08 L589.20,193.64 L590.20,194.18 L591.20,194.71 L592.20,195.23 L593.20,195.74 L594.20,196.24 L595.20,196.72 L596.20,197.20 L597.20,197.66 L598.20,198.11 L599.20,198.56 L600.20,198.99 L601.20,199.41 L602.20,199.82 L603.20,200.22 L604.20,200.62 L605.20,201.00 L606.20,201.37 L607.20,201.74 L608.20,202.09 L609.20,202.44 L610.20,202.78 L611.20,203.11 L612.20,203.43 L613.20,203.75 L614.20,204.05 L615.20,204.35 L616.20,204.64 L617.20,204.93 L618.20,205.20 L619.20,205.47 L620.20,205.73 L621.20,205.99 L622.20,206.24 L623.20,206.48 L624.20,206.72 L625.20,206.95 L626.20,207.18 L627.20,207.40 L628.20,207.61 L629.20,207.82 L630.20,208.02 L631.20,208.22 L632.20,208.42 L633.20,208.61 L634.20,208.79 L635.20,208.98 L636.20,209.15 L637.20,209.33 L638.20,209.50 L639.20,209.66 L640.20,209.83 L641.20,209.99 L642.20,210.14 L643.20,210.30 L644.20,210.45 L645.20,210.60 L646.20,210.75 L647.20,210.89 L648.20,211.04 L649.20,211.18 L650.20,211.32 L651.20,211.46 L652.20,211.59 L653.20,211.73 L654.20,211.87 L655.20,212.00 L656.20,212.14 L657.20,212.27 L658.20,212.40 L659.20,212.54 L660.20,212.67 L661.20,212.81 L662.20,212.94 L663.20,213.08 L664.20,213.22 L665.20,213.35 L666.20,213.49 L667.20,213.63 L668.20,213.78 L669.20,213.92 L670.20,214.07 L671.20,214.21" stroke="#821882"/>
<path d="M393.00,119.60 L400.20,135.50 L401.20,133.50 L402.20,131.40 L403.20,129.21 L404.20,126.93 L405.20,124.57 L406.20,122.13 L407.20,119.62 L408.20,117.04 L409.20,114.39 L410.20,111.68 L411.20,108.92 L412.20,106.10 L413.20,103.24 L414.20,100.33 L415.20,97.39 L416.20,94.41 L417.20,91.40 L418.20,88.37 L419.20,85.35 L420.20,82.35 L421.20,79.38 L422.20,76.47 L423.20,73.63 L424.20,70.89 L425.20,68.25 L426.20,65.74 L427.20,63.38 L428.20,61.17 L429.20,59.11 L430.20,57.19 L431.20,55.41 L432.20,53.77 L433.20,52.26 L434.20,50.88 L435.20,49.62 L436.20,48.48 L437.20,47.46 L438.20,46.54 L439.20,45.73 L440.20,45.02 L441.20,44.40 L442.20,43.87 L443.20,43.43 L444.20,43.06 L445.20,42.78 L446.20,42.56 L447.20,42.41 L448.20,42.32 L449.20,42.29 L450.20,42.31 L451.20,42.38 L452.20,42.49 L453.20,42.64 L454.20,42.84 L455.20,43.08 L456.20,43.37 L457.20,43.69 L458.20,44.06 L459.20,44.46 L460.20,44.90 L461.20,45.39 L462.20,45.91 L463.20,46.46 L464.20,47.05 L465.20,47.68 L466.20,48.34 L467.20,49.04 L468.20,49.77 L469.20,50.53 L470.20,51.32 L471.20,52.14 L472.20,53.00 L473.20,53.88 L474.20,54.79 L475.20,55.73 L476.20,56.70 L477.20,57.70 L478.20,58.72 L479.20,59.76 L480.20,60.83 L481.20,61.92 L482.20,63.04 L483.20,64.18 L484.20,65.34 L485.20,66.53 L486.20,67.75 L487.20,68.99 L488.20,70.26 L489.20,71.56 L490.20,72.89 L491.20,74.25 L492.20,75.64 L493.20,77.07 L494.20,78.52 L495.20,80.01 L496.20,81.53 L497.20,83.09 L498.20,84.69 L499.20,86.32 L500.20,87.98 L501.20,89.69 L502.20,91.44 L503.20,93.22 L504.20,95.02 L505.20,96.85 L506.20,98.67 L507.20,100.48 L508.20,102.27 L509.20,104.04 L510.20,105.80 L511.20,107.53 L512.20,109.25 L513.20,110.94 L514.20,112.62 L515.20,114.28 L516.20,115.92 L517.20,117.55 L518.20,119.16 L519.20,120.74 L520.20,122.32 L521.20,123.87 L522.20,125.41 L523.20,126.93 L524.20,128.43 L525.20,129.92 L526.20,131.39 L527.20,132.85 L528.20,134.28 L529.20,135.71 L530.20,137.11 L531.20,138.51 L532.20,139.88 L533.20,141.24 L534.20,142.58 L535.20,143.91 L536.20,145.22 L537.20,146.52 L538.20,147.80 L539.20,149.07 L540.20,150.32 L541.20,151.55 L542.20,152.77 L543.20,153.97 L544.20,155.16 L545.20,156.34 L546.20,157.49 L547.20,158.64 L548.20,159.76 L549.20,160.88 L550.20,161.97 L551.20,163.06 L552.20,164.13 L553.20,165.18 L554.20,166.22 L555.20,167.24 L556.20,168.25 L557.20,169.24 L558.20,170.22 L559.20,171.19 L560.20,172.14 L561.20,173.07 L562.20,174.00 L563.20,174.90 L564.20,175.80 L565.20,176.68 L566.20,177.54 L567.20,178.39 L568.20,179.23 L569.20,180.05 L570.20,180.86 L571.20,181.65 L572.20,182.43 L573.20,183.20 L574.20,183.95 L575.20,184.69 L576.20,185.42 L577.20,186.13 L578.20,186.83 L579.20,187.51 L580.20,188.19 L581.20,188.84 L582.20,189.49 L583.20,190.12 L584.20,190.74 L585.20,191.34 L586.20,191.94 L587.20,192.52 L588.20,193.08 L589.20,193.64 L590.20,194.18 L591.20,194.71 L592.20,195.23 L593.20,195.74 L594.20,196.24 L595.20,196.72 L596.20,197.20 L597.20,197.66 L598.20,198.11 L599.20,198.56 L600.20,198.99 L601.20,199.41 L602.20,199.82 L603.20,200.22 L604.20,200.62 L605.20,201.00 L606.20,201.37 L607.20,201.74 L608.20,202.09 L609.20,202.44 L610.20,202.78 L611.20,203.11 L612.20,203.43 L613.20,203.75 L614.20,204.05 L615.20,204.35 L616.20,204.64 L617.20,204.93 L618.20,205.20 L619.20,205.47 L620.20,205.73 L621.20,205.99 L622.20,206.24 L623.20,206.48 L624.20,206.72 L625.20,206.95 L626.20,207.18 L627.20,207.40 L628.20,207.61 L629.20,207.82 L630.20,208.02 L631.20,208.22 L632.20,208.42 L633.20,208.61 L634.20,208.79 L635.20,208.98 L636.20,209.15 L637.20,209.33 L638.20,209.50 L639.20,209.66 L640.20,209.83 L641.20,209.99 L642.20,210.14 L643.20,210.30 L644.20,210.45 L645.20,210.60 L646.20,210.75 L647.20,210.89 L648.20,211.04 L649.20,211.18 L650.20,211.32 L651.20,211.46 L652.20,211.59 L653.20,211.73 L654.20,211.87 L655.20,212.00 L656.20,212.14 L657.20,212.27 L658.20,212.40 L659.20,212.54 L660.20,212.67 L661.20,212.81 L662.20,212.94 L663.20,213.08 L664.20,213.22 L665.20,213.35 L666.20,213.49 L667.20,213.63 L668.20,213.78 L669.20,213.92 L670.20,214.07 L671.20,214.21" stroke="#10f0f0"/>
<path d="M393.00,123.00 L399.40,135.80 L400.40,133.66 L401.40,131.40 L402.40,129.03 L403.40,126.57 L404.40,124.03 L405.40,121.41 L406.40,118.72 L407.40,115.99 L408.40,113.20 L409.40,110.38 L410.40,107.54 L411.40,104.68 L412.40,101.81 L413.40,98.95 L414.40,96.11 L415.40,93.28 L416.40,90.49 L417.40,87.73 L418.40,85.01 L419.40,82.32 L420.40,79.69 L421.40,77.10 L422.40,74.56 L423.40,72.08 L424.40,69.67 L425.40,67.32 L426.40,65.04 L427.40,62.83 L428.40,60.70 L429.40,58.64 L430.40,56.67 L431.40,54.78 L432.40,52.97 L433.40,51.25 L434.40,49.62 L435.40,48.09 L436.40,46.65 L437.40,45.31 L438.40,44.07 L439.40,42.94 L440.40,41.91 L441.40,40.99 L442.40,40.19 L443.40,39.49 L444.40,38.91 L445.40,38.43 L446.40,38.05 L447.40,37.77 L448.40,37.57 L449.40,37.47 L450.40,37.45 L451.40,37.50 L452.40,37.63 L453.40,37.83 L454.40,38.10 L455.40,38.42 L456.40,38.80 L457.40,39.24 L458.40,39.72 L459.40,40.25 L460.40,40.81 L461.40,41.41 L462.40,42.04 L463.40,42.69 L464.40,43.37 L465.40,44.06 L466.40,44.77 L467.40,45.48 L468.40,46.21 L469.40,46.94 L470.40,47.69 L471.40,48.46 L472.40,49.24 L473.40,50.05 L474.40,50.87 L475.40,51.73 L476.40,52.61 L477.40,53.52 L478.40,54.46 L479.40,55.43 L480.40,56.44 L481.40,57.49 L482.40,58.58 L483.40,59.71 L484.40,60.89 L485.40,62.12 L486.40,63.39 L487.40,64.72 L488.40,66.09 L489.40,67.51 L490.40,68.97 L491.40,70.47 L492.40,72.00 L493.40,73.57 L494.40,75.17 L495.40,76.80 L496.40,78.45 L497.40,80.13 L498.40,81.82 L499.40,83.53 L500.40,85.26 L501.40,86.99 L502.40,88.74 L503.40,90.49 L504.40,92.24 L505.40,93.99 L506.40,95.74 L507.40,97.48 L508.40,99.21 L509.40,100.94 L510.40,102.65 L511.40,104.34 L512.40,106.03 L513.40,107.70 L514.40,109.36 L515.40,111.00 L516.40,112.63 L517.40,114.25 L518.40,115.86 L519.40,117.45 L520.40,119.03 L521.40,120.60 L522.40,122.15 L523.40,123.69 L524.40,125.22 L525.40,126.73 L526.40,128.23 L527.40,129.72 L528.40,131.19 L529.40,132.65 L530.40,134.09 L531.40,135.52 L532.40,136.94 L533.40,138.34 L534.40,139.73 L535.40,141.11 L536.40,142.47 L537.40,143.81 L538.40,145.15 L539.40,146.47 L540.40,147.77 L541.40,149.06 L542.40,150.34 L543.40,151.60 L544.40,152.84 L545.40,154.08 L546.40,155.29 L547.40,156.50 L548.40,157.68 L549.40,158.86 L550.40,160.02 L551.40,161.16 L552.40,162.29 L553.40,163.40 L554.40,164.50 L555.40,165.59 L556.40,166.65 L557.40,167.71 L558.40,168.75 L559.40,169.77 L560.40,170.78 L561.40,171.77 L562.40,172.75 L563.40,173.71 L564.40,174.66 L565.40,175.59 L566.40,176.50 L567.40,177.40 L568.40,178.28 L569.40,179.15 L570.40,180.00 L571.40,180.84 L572.40,181.66 L573.40,182.47 L574.40,183.25 L575.40,184.03 L576.40,184.79 L577.40,185.53 L578.40,186.26 L579.40,186.98 L580.40,187.68 L581.40,188.36 L582.40,189.04 L583.40,189.70 L584.40,190.34 L585.40,190.97 L586.40,191.59 L587.40,192.20 L588.40,192.79 L589.40,193.37 L590.40,193.94 L591.40,194.49 L592.40,195.03 L593.40,195.56 L594.40,196.08 L595.40,196.59 L596.40,197.08 L597.40,197.57 L598.40,198.04 L599.40,198.50 L600.40,198.95 L601.40,199.39 L602.40,199.82 L603.40,200.24 L604.40,200.65 L605.40,201.05 L606.40,201.44 L607.40,201.82 L608.40,202.19 L609.40,202.56 L610.40,202.91 L611.40,203.25 L612.40,203.59 L613.40,203.91 L614.40,204.23 L615.40,204.54 L616.40,204.84 L617.40,205.14 L618.40,205.42 L619.40,205.70 L620.40,205.97 L621.40,206.24 L622.40,206.49 L623.40,206.74 L624.40,206.99 L625.40,207.23 L626.40,207.46 L627.40,207.68 L628.40,207.90 L629.40,208.11 L630.40,208.32 L631.40,208.53 L632.40,208.72 L633.40,208.92 L634.40,209.10 L635.40,209.29 L636.40,209.46 L637.40,209.64 L638.40,209.81 L639.40,209.97 L640.40,210.14 L641.40,210.29 L642.40,210.45 L643.40,210.60 L644.40,210.75 L645.40,210.89 L646.40,211.04 L647.40,211.18 L648.40,211.32 L649.40,211.45 L650.40,211.58 L651.40,211.72 L652.40,211.85 L653.40,211.97 L654.40,212.10 L655.40,212.23 L656.40,212.35 L657.40,212.48 L658.40,212.60 L659.40,212.72 L660.40,212.85 L661.40,212.97 L662.40,213.09 L663.40,213.21 L664.40,213.34 L665.40,213.46 L666.40,213.59 L667.40,213.71 L668.40,213.84 L669.40,213.97 L670.40,214.10" stroke="#f88018"/>
<path d="M393.00,127.00 L400.00,136.20 L401.00,134.06 L402.00,131.80 L403.00,129.43 L404.00,126.97 L405.00,124.43 L406.00,121.81 L407.00,119.12 L408.00,116.39 L409.00,113.60 L410.00,110.78 L411.00,107.94 L412.00,105.08 L413.00,102.21 L414.00,99.35 L415.00,96.51 L416.00,93.68 L417.00,90.89 L418.00,88.13 L419.00,85.41 L420.00,82.72 L421.00,80.09 L422.00,77.50 L423.00,74.96 L424.00,72.48 L425.00,70.07 L426.00,67.72 L427.00,65.44 L428.00,63.23 L429.00,61.10 L430.00,59.04 L431.00,57.07 L432.00,55.18 L433.00,53.37 L434.00,51.65 L435.00,50.02 L436.00,48.49 L437.00,47.05 L438.00,45.71 L439.00,44.47 L440.00,43.34 L441.00,42.31 L442.00,41.39 L443.00,40.59 L444.00,39.89 L445.00,39.31 L446.00,38.83 L447.00,38.45 L448.00,38.17 L449.00,37.97 L450.00,37.87 L451.00,37.85 L452.00,37.90 L453.00,38.03 L454.00,38.23 L455.00,38.50 L456.00,38.82 L457.00,39.20 L458.00,39.64 L459.00,40.12 L460.00,40.65 L461.00,41.21 L462.00,41.81 L463.00,42.44 L464.00,43.09 L465.00,43.77 L466.00,44.46 L467.00,45.17 L468.00,45.88 L469.00,46.61 L470.00,47.34 L471.00,48.09 L472.00,48.86 L473.00,49.64 L474.00,50.45 L475.00,51.27 L476.00,52.13 L477.00,53.01 L478.00,53.92 L479.00,54.86 L480.00,55.83 L481.00,56.84 L482.00,57.89 L483.00,58.98 L484.00,60.11 L485.00,61.29 L486.00,62.52 L487.00,63.79 L488.00,65.12 L489.00,66.49 L490.00,67.91 L491.00,69.37 L492.00,70.87 L493.00,72.40 L494.00,73.97 L495.00,75.57 L496.00,77.20 L497.00,78.85 L498.00,80.53 L499.00,82.22 L500.00,83.93 L501.00,85.66 L502.00,87.39 L503.00,89.14 L504.00,90.89 L505.00,92.64 L506.00,94.39 L507.00,96.14 L508.00,97.88 L509.00,99.61 L510.00,101.34 L511.00,103.05 L512.00,104.74 L513.00,106.43 L514.00,108.10 L515.00,109.76 L516.00,111.40 L517.00,113.03 L518.00,114.65 L519.00,116.26 L520.00,117.85 L521.00,119.43 L522.00,121.00 L523.00,122.55 L524.00,124.09 L525.00,125.62 L526.00,127.13 L527.00,128.63 L528.00,130.12 L529.00,131.59 L530.00,133.05 L531.00,134.49 L532.00,135.92 L533.00,137.34 L534.00,138.74 L535.00,140.13 L536.00,141.51 L537.00,142.87 L538.00,144.21 L539.00,145.55 L540.00,146.87 L541.00,148.17 L542.00,149.46 L543.00,150.74 L544.00,152.00 L545.00,153.24 L546.00,154.48 L547.00,155.69 L548.00,156.90 L549.00,158.08 L550.00,159.26 L551.00,160.42 L552.00,161.56 L553.00,162.69 L554.00,163.80 L555.00,164.90 L556.00,165.99 L557.00,167.05 L558.00,168.11 L559.00,169.15 L560.00,170.17 L561.00,171.18 L562.00,172.17 L563.00,173.15 L564.00,174.11 L565.00,175.06 L566.00,175.99 L567.00,176.90 L568.00,177.80 L569.00,178.68 L570.00,179.55 L571.00,180.40 L572.00,181.24 L573.00,182.06 L574.00,182.87 L575.00,183.65 L576.00,184.43 L577.00,185.19 L578.00,185.93 L579.00,186.66 L580.00,187.38 L581.00,188.08 L582.00,188.76 L583.00,189.44 L584.00,190.10 L585.00,190.74 L586.00,191.37 L587.00,191.99 L588.00,192.60 L589.00,193.19 L590.00,193.77 L591.00,194.34 L592.00,194.89 L593.00,195.43 L594.00,195.96 L595.00,196.48 L596.00,196.99 L597.00,197.48 L598.00,197.97 L599.00,198.44 L600.00,198.90 L601.00,199.35 L602.00,199.79 L603.00,200.22 L604.00,200.64 L605.00,201.05 L606.00,201.45 L607.00,201.84 L608.00,202.22 L609.00,202.59 L610.00,202.96 L611.00,203.31 L612.00,203.65 L613.00,203.99 L614.00,204.31 L615.00,204.63 L616.00,204.94 L617.00,205.24 L618.00,205.54 L619.00,205.82 L620.00,206.10 L621.00,206.37 L622.00,206.64 L623.00,206.89 L624.00,207.14 L625.00,207.39 L626.00,207.63 L627.00,207.86 L628.00,208.08 L629.00,208.30 L630.00,208.51 L631.00,208.72 L632.00,208.93 L633.00,209.12 L634.00,209.32 L635.00,209.50 L636.00,209.69 L637.00,209.86 L638.00,210.04 L639.00,210.21 L640.00,210.37 L641.00,210.54 L642.00,210.69 L643.00,210.85 L644.00,211.00 L645.00,211.15 L646.00,211.29 L647.00,211.44 L648.00,211.58 L649.00,211.72 L650.00,211.85 L651.00,211.98 L652.00,212.12 L653.00,212.25 L654.00,212.37 L655.00,212.50 L656.00,212.63 L657.00,212.75 L658.00,212.88 L659.00,213.00 L660.00,213.12 L661.00,213.25 L662.00,213.37 L663.00,213.49 L664.00,213.61 L665.00,213.74 L666.00,213.86 L667.00,213.99 L668.00,214.11 L669.00,214.24 L670.00,214.37 L671.00,214.50" stroke="#f8f010"/>
</g>
<g clip-path="url(#clipA)" fill="none" stroke-width="1.5" stroke-linejoin="round">
<path d="M60.40,198.50 L63.90,189.60 L66.15,185.43 L68.40,180.00 L70.60,174.60 L72.80,168.90 L75.80,160.00 L78.00,156.30 L80.20,146.70 L83.90,134.80 L86.70,125.00 L88.40,119.00 L90.00,112.80 L92.80,107.20 L94.40,99.40 L96.70,91.70 L98.90,87.28 L101.10,82.80 L102.20,76.10 L104.40,73.90 L105.40,70.00 L107.20,66.30 L109.80,59.60 L111.30,57.40 L113.10,57.80 L115.40,53.00 L117.20,51.10 L119.10,49.30 L120.90,45.60 L123.10,46.30 L126.50,47.00 L128.70,43.70 L131.30,41.10 L133.50,41.10 L136.10,43.00 L139.40,43.70 L140.20,41.90 L142.40,43.70 L143.60,43.40 L145.20,41.30 L147.80,46.90 L150.40,47.60 L153.00,47.60 L154.80,49.40 L158.10,54.60 L160.70,52.80 L161.90,57.20 L162.60,62.00 L164.10,60.60 L166.10,64.95 L168.10,70.60 L170.00,69.40 L172.60,73.50 L175.50,76.00 L177.20,82.50 L179.10,84.40 L181.00,86.50 L184.50,93.00 L187.70,101.50 L190.50,105.20 L193.30,109.68 L196.10,114.40 L198.90,120.90 L201.60,125.60 L204.40,133.00 L207.20,139.40 L210.90,143.10 L214.60,147.80 L217.40,153.30 L221.10,160.70 L224.80,165.40 L228.00,167.60 L230.30,170.50 L232.30,173.77 L234.30,177.10 L236.40,179.51 L238.50,182.35 L240.60,185.00 L242.70,186.13 L244.80,187.14 L246.90,188.90 L249.00,191.04 L251.10,192.88 L253.20,194.40 L255.30,196.83 L257.40,198.08 L259.50,199.90 L261.60,200.83 L263.70,201.84 L265.80,203.10 L267.90,203.86 L270.00,206.04 L272.10,207.00 L274.20,207.68 L276.30,208.72 L278.40,210.20 L280.53,211.06 L282.67,212.59 L284.80,213.00 L286.90,213.82 L289.00,214.11 L291.10,215.20 L293.20,215.78 L295.30,217.09 L297.40,217.70 L299.50,218.28 L301.60,218.70 L303.70,219.60 L305.80,220.05 L307.90,220.93 L310.00,221.20 L312.10,222.42 L314.20,221.83 L316.30,222.80 L318.40,222.95 L320.50,223.25 L322.60,223.90 L324.70,223.32 L326.80,224.11 L328.90,224.70 L331.55,224.64 L334.20,225.30" stroke="#000"/>
<path d="M60.60,178.50 L62.40,178.50 L65.40,171.90 L67.65,165.73 L69.90,159.30 L73.60,151.90 L77.30,140.70 L80.20,130.40 L81.10,125.00 L83.90,114.00 L86.70,109.40 L88.30,100.60 L91.10,95.00 L93.30,87.20 L95.60,80.60 L97.80,73.90 L99.10,70.00 L101.70,65.00 L102.40,61.10 L104.60,57.40 L106.10,55.20 L107.60,50.40 L109.80,50.70 L111.30,46.70 L113.50,44.80 L115.00,42.20 L117.20,41.10 L118.70,39.30 L120.60,39.60 L122.80,41.10 L125.00,39.30 L127.60,40.00 L130.60,37.80 L132.00,38.90 L134.30,41.50 L136.10,40.40 L138.20,40.40 L140.00,40.20 L142.20,43.10 L144.40,42.40 L147.40,45.40 L151.10,49.10 L153.30,49.10 L157.00,52.80 L158.90,57.20 L161.50,58.70 L165.20,61.70 L167.80,69.80 L171.10,72.00 L173.50,73.50 L175.70,75.60 L177.60,83.00 L181.30,85.70 L185.00,92.20 L187.70,99.60 L190.50,101.50 L194.20,108.00 L197.90,115.40 L200.25,118.55 L202.60,121.90 L205.30,127.40 L209.00,137.60 L211.80,139.40 L214.10,143.38 L216.40,145.90 L220.10,151.50 L222.45,153.27 L224.80,155.20 L228.00,158.90 L231.30,163.50 L234.30,165.20 L236.40,167.60 L238.50,170.41 L240.60,172.30 L242.70,173.63 L244.80,175.32 L246.90,177.10 L249.00,178.99 L251.10,180.67 L253.20,182.60 L255.30,184.08 L257.40,186.21 L259.50,188.10 L261.60,189.29 L263.70,190.88 L265.80,192.00 L267.90,192.83 L270.00,194.46 L272.10,196.00 L274.20,197.38 L276.30,198.62 L278.40,199.10 L280.53,199.61 L282.67,201.23 L284.80,202.00 L286.90,202.61 L289.00,203.54 L291.10,204.70 L293.20,205.21 L295.30,206.11 L297.40,207.00 L299.50,208.10 L301.60,208.81 L303.70,209.40 L305.80,210.08 L307.90,210.62 L310.00,211.40 L312.10,212.03 L314.20,212.63 L316.30,213.30 L318.40,214.07 L320.50,214.18 L322.60,214.90 L324.70,215.33 L326.80,215.74 L328.90,216.20 L331.55,216.53 L334.20,216.90" stroke="#e8191a"/>
</g>
<rect x="60.60" y="8.70" width="273.50" height="222.60" fill="none" stroke="#000" stroke-width="1.35"/>
<line x1="56.00" y1="231.30" x2="60.60" y2="231.30" stroke="#000" stroke-width="1.35"/>
<text x="53.20" y="234.60" font-size="12.4" font-weight="bold" text-anchor="end" fill="#000">0</text>
<line x1="56.00" y1="199.50" x2="60.60" y2="199.50" stroke="#000" stroke-width="1.35"/>
<text x="53.20" y="202.80" font-size="12.4" font-weight="bold" text-anchor="end" fill="#000">50</text>
<line x1="56.00" y1="167.70" x2="60.60" y2="167.70" stroke="#000" stroke-width="1.35"/>
<text x="53.20" y="171.00" font-size="12.4" font-weight="bold" text-anchor="end" fill="#000">100</text>
<line x1="56.00" y1="135.90" x2="60.60" y2="135.90" stroke="#000" stroke-width="1.35"/>
<text x="53.20" y="139.20" font-size="12.4" font-weight="bold" text-anchor="end" fill="#000">150</text>
<line x1="56.00" y1="104.10" x2="60.60" y2="104.10" stroke="#000" stroke-width="1.35"/>
<text x="53.20" y="107.40" font-size="12.4" font-weight="bold" text-anchor="end" fill="#000">200</text>
<line x1="56.00" y1="72.30" x2="60.60" y2="72.30" stroke="#000" stroke-width="1.35"/>
<text x="53.20" y="75.60" font-size="12.4" font-weight="bold" text-anchor="end" fill="#000">250</text>
<line x1="56.00" y1="40.50" x2="60.60" y2="40.50" stroke="#000" stroke-width="1.35"/>
<text x="53.20" y="43.80" font-size="12.4" font-weight="bold" text-anchor="end" fill="#000">300</text>
<line x1="56.00" y1="8.70" x2="60.60" y2="8.70" stroke="#000" stroke-width="1.35"/>
<text x="53.20" y="12.00" font-size="12.4" font-weight="bold" text-anchor="end" fill="#000">350</text>
<line x1="98.32" y1="231.30" x2="98.32" y2="236.00" stroke="#000" stroke-width="1.35"/>
<text x="98.32" y="247.80" font-size="12.4" font-weight="bold" text-anchor="middle" fill="#000">325</text>
<line x1="145.48" y1="231.30" x2="145.48" y2="236.00" stroke="#000" stroke-width="1.35"/>
<text x="145.48" y="247.80" font-size="12.4" font-weight="bold" text-anchor="middle" fill="#000">350</text>
<line x1="192.63" y1="231.30" x2="192.63" y2="236.00" stroke="#000" stroke-width="1.35"/>
<text x="192.63" y="247.80" font-size="12.4" font-weight="bold" text-anchor="middle" fill="#000">375</text>
<line x1="239.79" y1="231.30" x2="239.79" y2="236.00" stroke="#000" stroke-width="1.35"/>
<text x="239.79" y="247.80" font-size="12.4" font-weight="bold" text-anchor="middle" fill="#000">400</text>
<line x1="286.94" y1="231.30" x2="286.94" y2="236.00" stroke="#000" stroke-width="1.35"/>
<text x="286.94" y="247.80" font-size="12.4" font-weight="bold" text-anchor="middle" fill="#000">425</text>
<line x1="334.10" y1="231.30" x2="334.10" y2="236.00" stroke="#000" stroke-width="1.35"/>
<text x="334.10" y="247.80" font-size="12.4" font-weight="bold" text-anchor="middle" fill="#000">450</text>
<text x="197.50" y="270.00" font-size="12.8" font-weight="bold" text-anchor="middle" fill="#000">Wavelength (nm)</text>
<text x="23.20" y="111.10" font-size="13.1" font-weight="bold" text-anchor="middle" fill="#000" transform="rotate(-90 23.20 111.10)">Fluorescence Intensity (a.u.)</text>
<line x1="187.50" y1="17.50" x2="211.20" y2="17.50" stroke="#000" stroke-width="1.5"/>
<text x="213.60" y="21.00" font-size="10.2" font-weight="normal" text-anchor="start" fill="#000">a-LA 0mM SHMP pH 2.0</text>
<line x1="187.50" y1="30.30" x2="211.20" y2="30.30" stroke="#e8191a" stroke-width="1.5"/>
<text x="213.60" y="33.80" font-size="10.2" font-weight="normal" text-anchor="start" fill="#000">a-LA 0mM SHMP pH 7.4</text>
<text x="312.80" y="58.40" font-size="18" font-weight="bold" text-anchor="middle" fill="#000">A</text>
<rect x="392.70" y="8.60" width="278.70" height="226.20" fill="none" stroke="#000" stroke-width="1.35"/>
<line x1="387.40" y1="219.90" x2="392.70" y2="219.90" stroke="#000" stroke-width="1.35"/>
<text x="385.00" y="223.20" font-size="12.9" font-weight="bold" text-anchor="end" fill="#000">0</text>
<line x1="387.40" y1="177.64" x2="392.70" y2="177.64" stroke="#000" stroke-width="1.35"/>
<text x="385.00" y="180.94" font-size="12.9" font-weight="bold" text-anchor="end" fill="#000">70</text>
<line x1="387.40" y1="135.38" x2="392.70" y2="135.38" stroke="#000" stroke-width="1.35"/>
<text x="385.00" y="138.68" font-size="12.9" font-weight="bold" text-anchor="end" fill="#000">140</text>
<line x1="387.40" y1="93.12" x2="392.70" y2="93.12" stroke="#000" stroke-width="1.35"/>
<text x="385.00" y="96.42" font-size="12.9" font-weight="bold" text-anchor="end" fill="#000">210</text>
<line x1="387.40" y1="50.86" x2="392.70" y2="50.86" stroke="#000" stroke-width="1.35"/>
<text x="385.00" y="54.16" font-size="12.9" font-weight="bold" text-anchor="end" fill="#000">280</text>
<line x1="387.40" y1="8.60" x2="392.70" y2="8.60" stroke="#000" stroke-width="1.35"/>
<text x="385.00" y="11.90" font-size="12.9" font-weight="bold" text-anchor="end" fill="#000">350</text>
<line x1="430.57" y1="234.80" x2="430.57" y2="239.40" stroke="#000" stroke-width="1.35"/>
<text x="430.57" y="251.00" font-size="12.9" font-weight="bold" text-anchor="middle" fill="#000">325</text>
<line x1="478.74" y1="234.80" x2="478.74" y2="239.40" stroke="#000" stroke-width="1.35"/>
<text x="478.74" y="251.00" font-size="12.9" font-weight="bold" text-anchor="middle" fill="#000">350</text>
<line x1="526.90" y1="234.80" x2="526.90" y2="239.40" stroke="#000" stroke-width="1.35"/>
<text x="526.90" y="251.00" font-size="12.9" font-weight="bold" text-anchor="middle" fill="#000">375</text>
<line x1="575.07" y1="234.80" x2="575.07" y2="239.40" stroke="#000" stroke-width="1.35"/>
<text x="575.07" y="251.00" font-size="12.9" font-weight="bold" text-anchor="middle" fill="#000">400</text>
<line x1="623.23" y1="234.80" x2="623.23" y2="239.40" stroke="#000" stroke-width="1.35"/>
<text x="623.23" y="251.00" font-size="12.9" font-weight="bold" text-anchor="middle" fill="#000">425</text>
<line x1="671.40" y1="234.80" x2="671.40" y2="239.40" stroke="#000" stroke-width="1.35"/>
<text x="671.40" y="251.00" font-size="12.9" font-weight="bold" text-anchor="middle" fill="#000">450</text>
<text x="532.00" y="274.00" font-size="12.8" font-weight="bold" text-anchor="middle" fill="#000">Wavelength (nm)</text>
<text x="354.20" y="120.90" font-size="13.3" font-weight="bold" text-anchor="middle" fill="#000" transform="rotate(-90 354.20 120.90)">Fluorescence Intensity (a.u.)</text>
<text x="542.40" y="32.40" font-size="18" font-weight="bold" text-anchor="middle" fill="#000">B</text>
<line x1="554.80" y1="19.10" x2="577.00" y2="19.10" stroke="#000000" stroke-width="1.7"/>
<text x="578.60" y="22.40" font-size="9.42" font-weight="normal" text-anchor="start" fill="#000">a-LA 0mM SHMP</text>
<line x1="554.80" y1="30.46" x2="577.00" y2="30.46" stroke="#e8191a" stroke-width="1.7"/>
<text x="578.60" y="33.76" font-size="9.42" font-weight="normal" text-anchor="start" fill="#000">a-LA 0.01mM SHMP</text>
<line x1="554.80" y1="41.82" x2="577.00" y2="41.82" stroke="#1f1fe6" stroke-width="1.7"/>
<text x="578.60" y="45.12" font-size="9.42" font-weight="normal" text-anchor="start" fill="#000">a-LA 0.03mM SHMP</text>
<line x1="554.80" y1="53.18" x2="577.00" y2="53.18" stroke="#f010f0" stroke-width="1.7"/>
<text x="578.60" y="56.48" font-size="9.42" font-weight="normal" text-anchor="start" fill="#000">a-LA 0.05mM SHMP</text>
<line x1="554.80" y1="64.54" x2="577.00" y2="64.54" stroke="#168016" stroke-width="1.7"/>
<text x="578.60" y="67.84" font-size="9.42" font-weight="normal" text-anchor="start" fill="#000">a-LA 0.1mM SHMP</text>
<line x1="554.80" y1="75.90" x2="577.00" y2="75.90" stroke="#10107e" stroke-width="1.7"/>
<text x="578.60" y="79.20" font-size="9.42" font-weight="normal" text-anchor="start" fill="#000">a-LA 0.2mM SHMP</text>
<line x1="554.80" y1="87.26" x2="577.00" y2="87.26" stroke="#8010f8" stroke-width="1.7"/>
<text x="578.60" y="90.56" font-size="9.42" font-weight="normal" text-anchor="start" fill="#000">a-LA 0.4mM SHMP</text>
<line x1="554.80" y1="98.62" x2="577.00" y2="98.62" stroke="#821882" stroke-width="1.7"/>
<text x="578.60" y="101.92" font-size="9.42" font-weight="normal" text-anchor="start" fill="#000">a-LA 0.8mM SHMP</text>
<line x1="554.80" y1="109.98" x2="577.00" y2="109.98" stroke="#10f0f0" stroke-width="1.7"/>
<text x="578.60" y="113.28" font-size="9.42" font-weight="normal" text-anchor="start" fill="#000">a-LA 1.0mM SHMP</text>
<line x1="554.80" y1="121.34" x2="577.00" y2="121.34" stroke="#f88018" stroke-width="1.7"/>
<text x="578.60" y="124.64" font-size="9.42" font-weight="normal" text-anchor="start" fill="#000">a-LA 2.0mM SHMP</text>
<line x1="554.80" y1="132.70" x2="577.00" y2="132.70" stroke="#f8f010" stroke-width="1.7"/>
<text x="578.60" y="136.00" font-size="9.42" font-weight="normal" text-anchor="start" fill="#000">a-LA 5.0mM SHMP</text>
<rect x="55.30" y="277.00" width="275.40" height="224.00" fill="none" stroke="#000" stroke-width="1.35"/>
<line x1="50.70" y1="500.80" x2="55.30" y2="500.80" stroke="#000" stroke-width="1.35"/>
<text x="48.30" y="504.40" font-size="12.8" font-weight="bold" text-anchor="end" fill="#000">333</text>
<line x1="50.70" y1="456.04" x2="55.30" y2="456.04" stroke="#000" stroke-width="1.35"/>
<text x="48.30" y="459.64" font-size="12.8" font-weight="bold" text-anchor="end" fill="#000">336</text>
<line x1="50.70" y1="411.28" x2="55.30" y2="411.28" stroke="#000" stroke-width="1.35"/>
<text x="48.30" y="414.88" font-size="12.8" font-weight="bold" text-anchor="end" fill="#000">339</text>
<line x1="50.70" y1="366.52" x2="55.30" y2="366.52" stroke="#000" stroke-width="1.35"/>
<text x="48.30" y="370.12" font-size="12.8" font-weight="bold" text-anchor="end" fill="#000">342</text>
<line x1="50.70" y1="321.76" x2="55.30" y2="321.76" stroke="#000" stroke-width="1.35"/>
<text x="48.30" y="325.36" font-size="12.8" font-weight="bold" text-anchor="end" fill="#000">345</text>
<line x1="50.70" y1="277.00" x2="55.30" y2="277.00" stroke="#000" stroke-width="1.35"/>
<text x="48.30" y="280.60" font-size="12.8" font-weight="bold" text-anchor="end" fill="#000">348</text>
<line x1="78.25" y1="501.00" x2="78.25" y2="505.60" stroke="#000" stroke-width="1.35"/>
<text x="78.25" y="517.80" font-size="12.8" font-weight="bold" text-anchor="middle" fill="#000">0</text>
<line x1="124.15" y1="501.00" x2="124.15" y2="505.60" stroke="#000" stroke-width="1.35"/>
<text x="124.15" y="517.80" font-size="12.8" font-weight="bold" text-anchor="middle" fill="#000">1</text>
<line x1="170.05" y1="501.00" x2="170.05" y2="505.60" stroke="#000" stroke-width="1.35"/>
<text x="170.05" y="517.80" font-size="12.8" font-weight="bold" text-anchor="middle" fill="#000">2</text>
<line x1="215.95" y1="501.00" x2="215.95" y2="505.60" stroke="#000" stroke-width="1.35"/>
<text x="215.95" y="517.80" font-size="12.8" font-weight="bold" text-anchor="middle" fill="#000">3</text>
<line x1="261.85" y1="501.00" x2="261.85" y2="505.60" stroke="#000" stroke-width="1.35"/>
<text x="261.85" y="517.80" font-size="12.8" font-weight="bold" text-anchor="middle" fill="#000">4</text>
<line x1="307.75" y1="501.00" x2="307.75" y2="505.60" stroke="#000" stroke-width="1.35"/>
<text x="307.75" y="517.80" font-size="12.8" font-weight="bold" text-anchor="middle" fill="#000">5</text>
<text x="185.60" y="536.40" font-size="12.8" font-weight="bold" text-anchor="middle" fill="#000">[SHMP] mM</text>
<text x="17.40" y="391.20" font-size="13.3" font-weight="bold" text-anchor="middle" fill="#000" transform="rotate(-90 17.40 391.20)">Wavelength maximum (nm)</text>
<text x="312.70" y="306.00" font-size="18" font-weight="bold" text-anchor="middle" fill="#000">C</text>
<line x1="79.10" y1="303.30" x2="79.10" y2="318.10" stroke="#000" stroke-width="1.5"/>
<line x1="79.16" y1="325.90" x2="79.74" y2="363.00" stroke="#000" stroke-width="1.5"/>
<line x1="79.90" y1="370.80" x2="80.30" y2="385.40" stroke="#000" stroke-width="1.5"/>
<line x1="80.83" y1="393.18" x2="82.47" y2="407.92" stroke="#000" stroke-width="1.5"/>
<line x1="83.29" y1="415.68" x2="87.01" y2="452.42" stroke="#000" stroke-width="1.5"/>
<line x1="91.30" y1="456.30" x2="92.50" y2="456.30" stroke="#000" stroke-width="1.5"/>
<line x1="98.90" y1="459.29" x2="112.50" y2="475.61" stroke="#000" stroke-width="1.5"/>
<line x1="116.50" y1="475.00" x2="122.80" y2="459.90" stroke="#000" stroke-width="1.5"/>
<line x1="128.20" y1="456.29" x2="166.00" y2="456.21" stroke="#000" stroke-width="1.5"/>
<line x1="173.80" y1="456.20" x2="303.70" y2="456.20" stroke="#000" stroke-width="1.5"/>
<line x1="80.00" y1="326.00" x2="80.20" y2="363.00" stroke="#000" stroke-width="1.4"/>
<rect x="76.10" y="296.40" width="6.0" height="6.0" fill="#000"/>
<rect x="76.10" y="319.00" width="6.0" height="6.0" fill="#000"/>
<rect x="76.80" y="363.90" width="6.0" height="6.0" fill="#000"/>
<rect x="77.40" y="386.30" width="6.0" height="6.0" fill="#000"/>
<rect x="79.90" y="408.80" width="6.0" height="6.0" fill="#000"/>
<rect x="84.40" y="453.30" width="6.0" height="6.0" fill="#000"/>
<rect x="93.40" y="453.30" width="6.0" height="6.0" fill="#000"/>
<rect x="112.00" y="475.60" width="6.0" height="6.0" fill="#000"/>
<rect x="121.30" y="453.30" width="6.0" height="6.0" fill="#000"/>
<rect x="166.90" y="453.20" width="6.0" height="6.0" fill="#000"/>
<rect x="304.60" y="453.20" width="6.0" height="6.0" fill="#000"/>
<rect x="75.10" y="319.20" width="8.0" height="5.6" fill="#000"/>
</g>
</svg>
</body></html>
